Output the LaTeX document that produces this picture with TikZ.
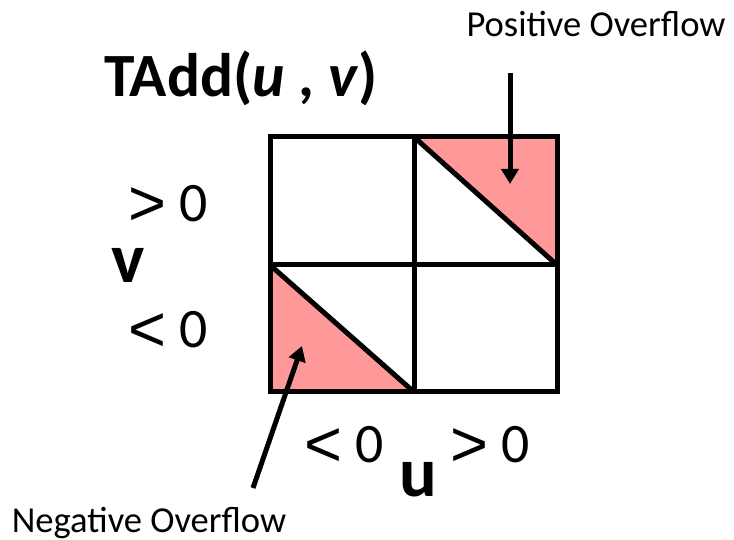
\documentclass[tikz,border=0pt]{standalone}
\usepackage{fontspec}
\setmainfont{Carlito}
\newfontfamily\relfont{Liberation Sans}
\usepackage{tikz}
\usetikzlibrary{arrows.meta}
\definecolor{ovfpink}{RGB}{255,153,153}
\newcommand{\relsym}[1]{\raisebox{-2pt}{\relfont\fontsize{37}{40}\selectfont #1}}

\begin{document}
\begin{tikzpicture}[
  x=0.02cm, y=-0.02cm,
  gridline/.style={line width=0.1cm,line join=miter},
  ovf/.style={fill=ovfpink},
  note/.style={anchor=base,inner sep=0pt,font=\fontsize{20.8}{24}\selectfont},
  cmp/.style={anchor=base,inner sep=0pt,font=\fontsize{31.7}{36}\selectfont},
  axis/.style={anchor=base,inner sep=0pt,font=\fontsize{40}{48}\selectfont\bfseries},
  ttl/.style={anchor=base,inner sep=0pt,font=\fontsize{35}{40}\selectfont\bfseries},
  arrow/.style={-{Triangle[length=0.3cm,width=0.34cm]},line width=0.1cm},
]
\useasboundingbox (0,0) rectangle (734,540);

% grid corners
\coordinate (nw) at (270,137);
\coordinate (se) at (557,392);
\coordinate (mid) at (414,265);

% overflow regions
\fill[ovf] (mid |- nw) -- (se |- nw) -- (se |- mid) -- cycle;
\fill[ovf] (nw |- mid) -- (nw |- se) -- (mid |- se) -- cycle;

\draw[gridline] (nw) rectangle (se);
\draw[gridline] (mid |- nw) -- (mid |- se);
\draw[gridline] (nw |- mid) -- (se |- mid);
\draw[gridline] (mid |- nw) -- (se |- mid);
\draw[gridline] (nw |- mid) -- (mid |- se);

\node[ttl] (title) at (241,97) {TAdd(\textit{u} , \textit{v})};
\node[cmp] (vpos) at (168,222) {\relsym{>} 0};
\node[axis] (vlab) at (128,283) {v};
\node[cmp] (vneg) at (168,348) {\relsym{<} 0};
\node[cmp] (uneg) at (344,463) {\relsym{<} 0};
\node[axis] (ulab) at (418,497) {u};
\node[cmp] (upos) at (490,463) {\relsym{>} 0};

\node[note] (posov) at (596,37) {Positive Overflow};
\node[note] (negov) at (149,533) {Negative Overflow};

\coordinate (postail) at (510,73);
\coordinate (postip) at (510,184);
\coordinate (negtail) at (253,488);
\coordinate (negtip) at (302,346);

\draw[arrow] (postail) -- (postip);
\draw[arrow] (negtail) -- (negtip);
\end{tikzpicture}
\end{document}
